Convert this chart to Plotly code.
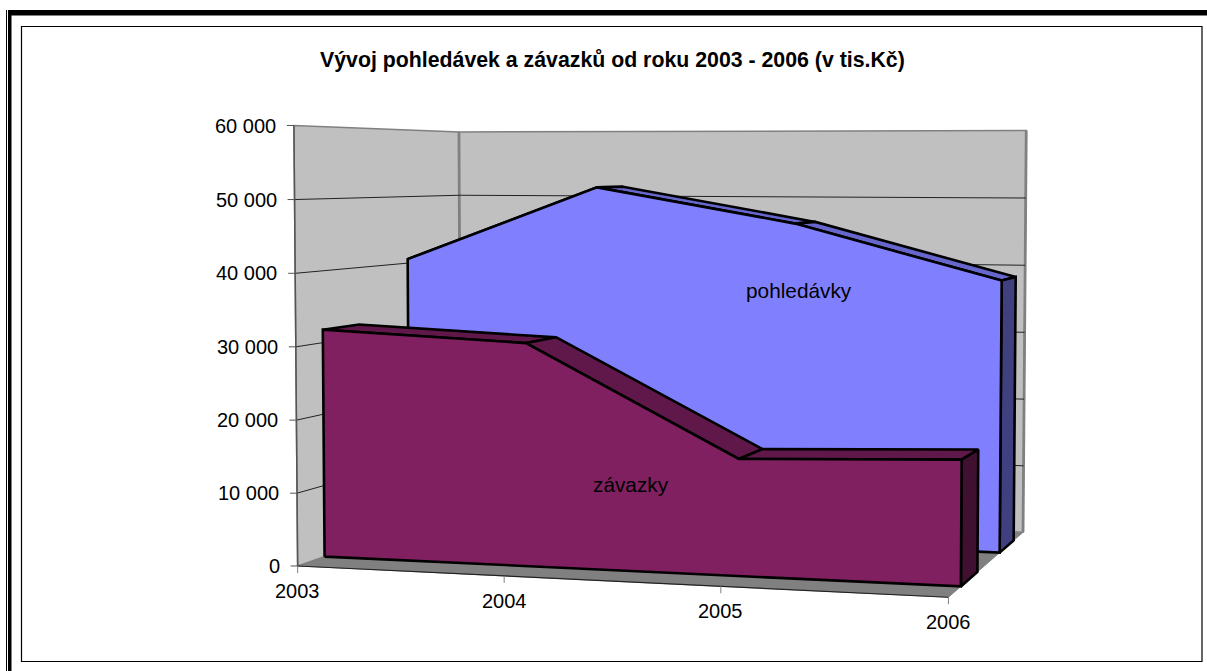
import numpy as np
import plotly.graph_objects as go

TITLE = "Vývoj pohledávek a závazků od roku 2003 - 2006 (v tis.Kč)"
years = ["2003", "2004", "2005", "2006"]
pohledavky = [40600, 51500, 46400, 38600]
zavazky = [31800, 30550, 15700, 16600]
value_ticks = [0, 10000, 20000, 30000, 40000, 50000, 60000]
value_tick_labels = ["0", "10 000", "20 000", "30 000", "40 000", "50 000", "60 000"]

# view of the 3-D box: (year index, value, depth) -> screen position
view_x = [0, 0, 0, 0, 3, 3, 3, 1, 2]
view_v = [0, 60000, 0, 60000, 0, 60000, 0, 0, 0]
view_d = [0, 0, 1, 1, 1, 1, 0, 0, 0]
view_sx = [298, 293, 460, 460, 1023, 1026, 947, 503, 724]
view_sy = [565, 126, 510, 132, 532, 130, 598, 575, 587]

Z_FRONT_B, Z_BACK_B = 0.145, 0.35
Z_FRONT_A, Z_BACK_A = 0.65, 0.855


def fit_view():
    rows, rhs = [], []
    for x, v, d, sx, sy in zip(view_x, view_v, view_d, view_sx, view_sy):
        p = [x, v / 60000, d, 1]
        rows.append(p + [0, 0, 0, 0] + [-sx * c for c in p[:3]])
        rhs.append(sx)
        rows.append([0, 0, 0, 0] + p + [-sy * c for c in p[:3]])
        rhs.append(sy)
    m = np.linalg.lstsq(np.array(rows, float), np.array(rhs, float), rcond=None)[0]
    return np.append(m, 1).reshape(3, 4)


M = fit_view()


def project(x, v, d):
    q = M @ np.array([x, v / 60000, d, 1.0])
    return q[0] / q[2], q[1] / q[2]


fig = go.Figure()


def face(pts, fill=None, line="#000000", width=2.6):
    xy = [project(*p) for p in pts]
    xs = [a for a, _ in xy]
    ys = [b for _, b in xy]
    if fill:
        xs.append(xs[0])
        ys.append(ys[0])
    fig.add_trace(go.Scatter(
        x=xs, y=ys, mode="lines", hoverinfo="skip", showlegend=False,
        fill="toself" if fill else None, fillcolor=fill,
        line=dict(color=line, width=width),
    ))


top_v = value_ticks[-1]
# walls and floor
face([(0, 0, 0), (3, 0, 0), (3, 0, 1), (0, 0, 1)], "#808080", "#808080", 1)
face([(0, 0, 0), (0, top_v, 0), (0, top_v, 1), (0, 0, 1)], "#C0C0C0", "#808080", 1.5)
face([(0, 0, 1), (0, top_v, 1), (3, top_v, 1), (3, 0, 1)], "#C0C0C0", "#808080", 1.5)
face([(0, 0, 1), (0, top_v, 1)], None, "#808080", 2.8)
face([(3, 0, 1), (3, top_v, 1)], None, "#808080", 2.8)
for v in value_ticks[1:-1]:
    face([(0, v, 0), (0, v, 1), (3, v, 1)], None, "#222222", 1)
face([(0, 0, 0), (0, top_v, 0)], None, "#555555", 1.5)
face([(0, 0, 0), (3, 0, 0)], None, "#222222", 1.2)


def slab(vals, z0, z1, front, top, side):
    n = len(vals)
    for i in range(n - 1):
        face([(i, vals[i], z0), (i + 1, vals[i + 1], z0),
              (i + 1, vals[i + 1], z1), (i, vals[i], z1)], top)
    last = n - 1
    face([(last, 0, z0), (last, vals[last], z0),
          (last, vals[last], z1), (last, 0, z1)], side)
    pts = [(i, vals[i], z0) for i in range(n)]
    face([(0, 0, z0)] + pts + [(last, 0, z0)], front)


slab(pohledavky, Z_FRONT_A, Z_BACK_A, "#8080FF", "#6666CC", "#404080")
slab(zavazky, Z_FRONT_B, Z_BACK_B, "#802060", "#60184A", "#401030")

# ticks
for v in value_ticks:
    sx, sy = project(0, v, 0)
    fig.add_shape(type="line", x0=sx - 7, x1=sx, y0=sy, y1=sy, xref="x", yref="y",
                  line=dict(color="#555555", width=1))
for i in range(len(years)):
    sx, sy = project(i, 0, 0)
    fig.add_shape(type="line", x0=sx, x1=sx, y0=sy, y1=sy + 7, xref="x", yref="y",
                  line=dict(color="#808080", width=1))

FONT = "Liberation Sans, Arial, sans-serif"


def label(x, y, text, size=20, anchor="center", bold=False):
    fig.add_annotation(x=x, y=y, xref="x", yref="y", text=f"<b>{text}</b>" if bold else text,
                       showarrow=False, xanchor=anchor, yanchor="middle",
                       font=dict(family=FONT, size=size, color="#000000"))


for v, t in zip(value_ticks, value_tick_labels):
    sx, sy = project(0, v, 0)
    label(sx - 16, sy, t, anchor="right")
for i, y in enumerate(years):
    sx, sy = project(i, 0, 0)
    label(sx, sy + 25, y)
label(612, 60, TITLE, size=21.3, bold=True)
label(799, 290, "pohledávky", size=20.8)
label(631, 484, "závazky", size=20.8)

frames = [
    dict(x0=21.5, y0=26.5, x1=1202, y1=661.5, line=dict(color="#000000", width=1.2)),
]
for f in frames:
    fig.add_shape(type="rect", xref="x", yref="y", **f)
fig.add_shape(type="rect", xref="x", yref="y", x0=8, x1=1207, y0=10, y1=15.5,
              fillcolor="#000000", line=dict(width=0))
fig.add_shape(type="rect", xref="x", yref="y", x0=8, x1=11.5, y0=10, y1=671,
              fillcolor="#000000", line=dict(width=0))
fig.add_shape(type="line", xref="x", yref="y", x0=6.5, x1=6.5, y0=10, y1=671,
              line=dict(color="#000000", width=1))

fig.update_layout(
    width=1207, height=671, margin=dict(l=0, r=0, t=0, b=0),
    paper_bgcolor="#FFFFFF", plot_bgcolor="#FFFFFF", showlegend=False,
    xaxis=dict(range=[0, 1207], visible=False, fixedrange=True),
    yaxis=dict(range=[671, 0], visible=False, fixedrange=True),
)
fig.write_html("out.html", post_script="document.body.style.margin='0';document.body.style.overflow='hidden';",
               config={"displayModeBar": False})
